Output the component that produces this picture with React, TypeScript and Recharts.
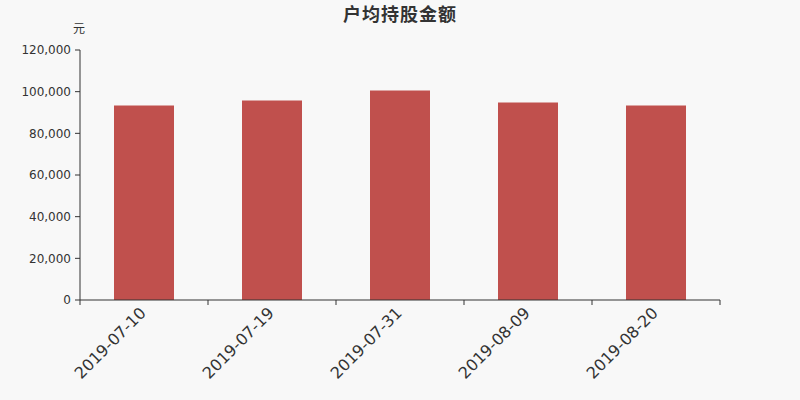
import React from "react";
import { BarChart, Bar, XAxis, YAxis } from "recharts";

const dates = ["2019-07-10", "2019-07-19", "2019-07-31", "2019-08-09", "2019-08-20"];
const amounts = [93400, 95800, 100600, 94800, 93400];
const yTicks = [0, 20000, 40000, 60000, 80000, 100000, 120000];
const title = "户均持股金额";
const unit = "元";

const data = dates.map((d, i) => ({ date: d, value: amounts[i] }));

const AXIS = "#333";

const XTick = (props: any) => {
  const { x, y, payload, index } = props;
  const off = payload && typeof payload.offset === "number" ? payload.offset : 64;
  const last = index === dates.length - 1;
  return (
    <g>
      <line x1={x - off} y1={y} x2={x - off} y2={y + 5} stroke={AXIS} strokeWidth={1} />
      {last ? <line x1={x + off} y1={y} x2={x + off} y2={y + 5} stroke={AXIS} strokeWidth={1} /> : null}
      <text
        x={x + 3}
        y={y + 14}
        transform={`rotate(-45, ${x + 3}, ${y + 14})`}
        textAnchor="end"
        fontSize={16}
        fill="#333"
        fontFamily="DejaVu Sans"
      >
        {payload.value}
      </text>
    </g>
  );
};

export default function App() {
  return (
    <div
      style={{
        position: "absolute",
        left: 0,
        top: 0,
        width: 800,
        height: 400,
        background: "#f8f8f8",
        fontFamily: "DejaVu Sans",
      }}
    >
      <div
        style={{
          position: "absolute",
          left: 0,
          top: 2,
          width: 800,
          textAlign: "center",
          fontSize: 18,
          fontWeight: "bold",
          color: "#333",
          fontFamily: "'Noto Sans CJK SC'",
          lineHeight: "22px",
          letterSpacing: 1,
        }}
      >
        {title}
      </div>
      <div
        style={{
          position: "absolute",
          left: 73,
          top: 20,
          fontSize: 12,
          color: "#333",
          fontFamily: "'Noto Sans CJK SC'",
          lineHeight: "16px",
        }}
      >
        {unit}
      </div>
      <BarChart
        width={800}
        height={400}
        data={data}
        margin={{ top: 50, right: 80, bottom: 0, left: 0 }}
        barCategoryGap={0}
      >
        <XAxis
          dataKey="date"
          height={100}
          interval={0}
          tickLine={false}
          tickSize={0}
          tickMargin={0}
          axisLine={{ stroke: AXIS }}
          tick={<XTick />}
        />
        <YAxis
          width={80}
          domain={[0, 120000]}
          ticks={yTicks}
          interval={0}
          tickSize={5}
          tickMargin={4}
          axisLine={{ stroke: AXIS }}
          tickLine={{ stroke: AXIS }}
          tick={{ fontSize: 12, fill: "#333", fontFamily: "DejaVu Sans" }}
          tickFormatter={(v: number) => v.toLocaleString("en-US")}
        />
        <Bar dataKey="value" fill="#c0504d" barSize={60} isAnimationActive={false} />
      </BarChart>
    </div>
  );
}
